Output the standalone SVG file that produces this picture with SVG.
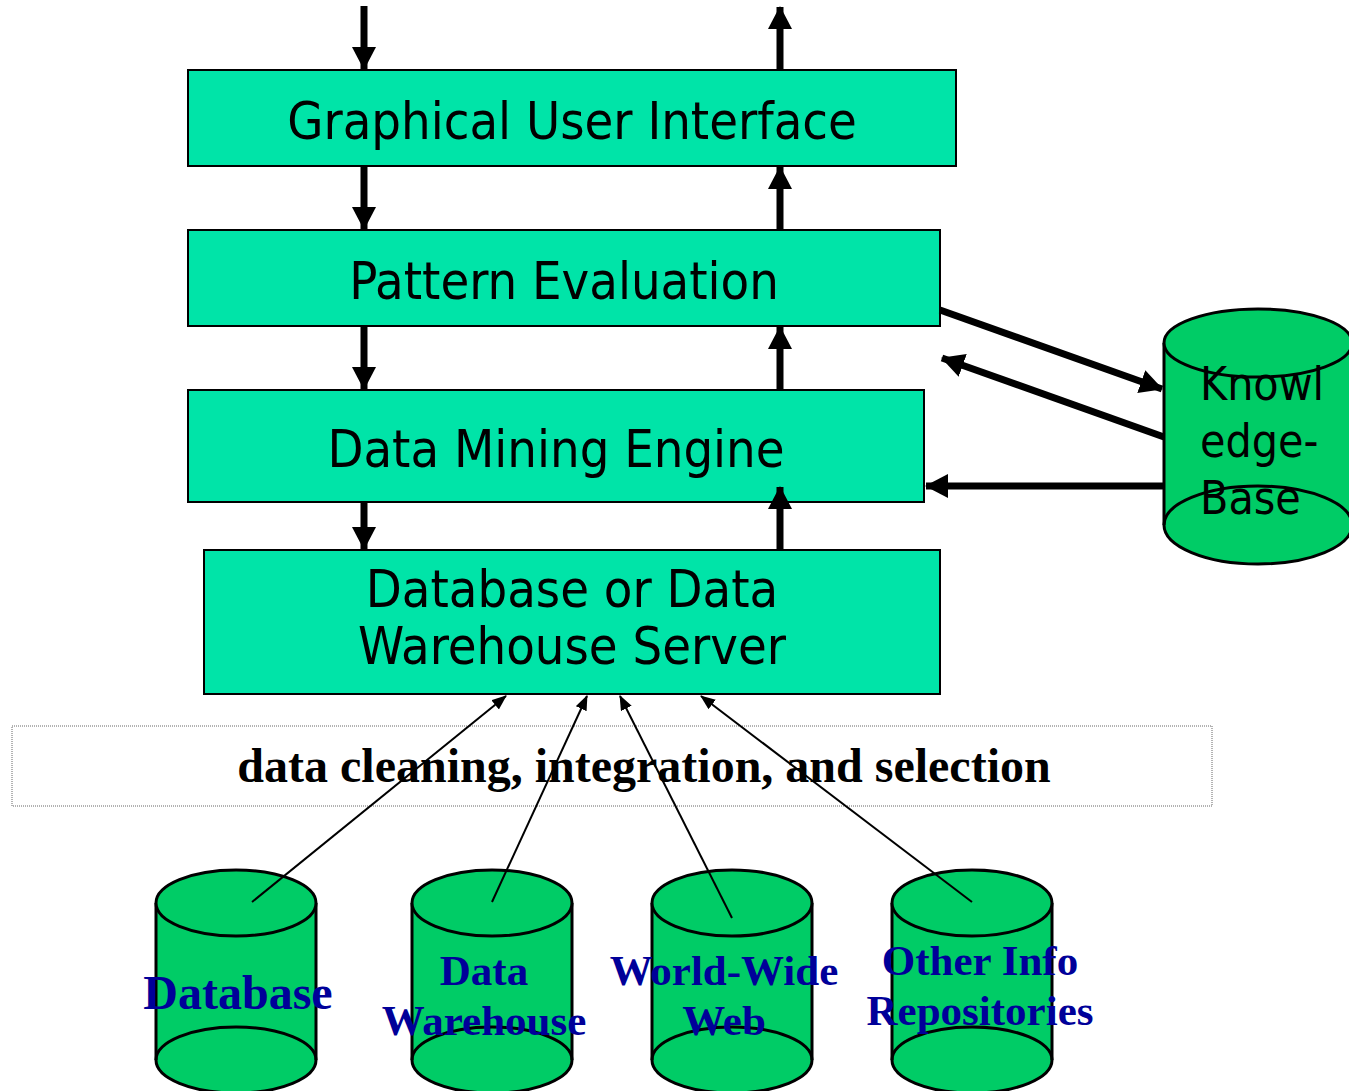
<svg xmlns="http://www.w3.org/2000/svg" width="1349" height="1091" viewBox="0 0 1349 1091">
<style>
.box{fill:#00E4A8;stroke:#000;stroke-width:2}
.bt{font-family:"DejaVu Sans Condensed","DejaVu Sans",sans-serif;font-size:52px;fill:#000;text-anchor:middle}
.kt{font-family:"DejaVu Sans Condensed","DejaVu Sans",sans-serif;font-size:46px;fill:#000}
.cyl{fill:#00CC66;stroke:#000;stroke-width:3}
.ct{font-family:"Liberation Serif",serif;font-weight:bold;font-size:43px;fill:#000099;text-anchor:middle}
.thick{stroke:#000;stroke-width:7;fill:none}
.thin{stroke:#000;stroke-width:2;fill:none}
</style>
<defs>
<marker id="ah" viewBox="0 0 23 24" markerWidth="23" markerHeight="24" refX="22" refY="12" orient="auto" markerUnits="userSpaceOnUse"><path d="M0,0 L23,12 L0,24 z" fill="#000"/></marker>
<marker id="as" viewBox="0 0 15 12" markerWidth="15" markerHeight="12" refX="14" refY="6" orient="auto" markerUnits="userSpaceOnUse"><path d="M0,0 L15,6 L0,12 z" fill="#000"/></marker>
</defs>
<rect width="1349" height="1091" fill="#fff"/>
<g id="gui"><rect class="box" x="188" y="70" width="768" height="96"/><text class="bt" x="572" y="139">Graphical User Interface</text></g>
<g id="pattern-evaluation"><rect class="box" x="188" y="230" width="752" height="96"/><text class="bt" x="564" y="299">Pattern Evaluation</text></g>
<g id="data-mining-engine"><rect class="box" x="188" y="390" width="736" height="112"/><text class="bt" x="556" y="467">Data Mining Engine</text></g>
<g id="server"><rect class="box" x="204" y="550" width="736" height="144"/><text class="bt" x="572" y="607">Database or Data</text><text class="bt" x="572" y="664">Warehouse Server</text></g>
<g id="cleaning"><rect x="12" y="726" width="1200" height="80" fill="none" stroke="#666" stroke-width="1" stroke-dasharray="1,1"/><text x="644" y="782" font-family="Liberation Serif,serif" font-weight="bold" font-size="48" text-anchor="middle">data cleaning, integration, and selection</text></g>
<g id="knowledge-base">
<path class="cyl" d="M1164,343 L1164,525 A94,39 0 0 0 1352,525 L1352,343"/>
<ellipse class="cyl" cx="1258" cy="343" rx="94" ry="34"/>
<path d="M1164,525 A94,39 0 0 1 1352,525" fill="none" stroke="#000" stroke-width="3"/>
<text class="kt" x="1200" y="400">Knowl</text>
<text class="kt" x="1200" y="457">edge-</text>
<text class="kt" x="1200" y="514">Base</text>
</g>
<g id="db-database">
<path class="cyl" d="M156,903 L156,1060 A80,33 0 0 0 316,1060 L316,903"/>
<ellipse class="cyl" cx="236" cy="903" rx="80" ry="33"/>
<path d="M156,1060 A80,33 0 0 1 316,1060" fill="none" stroke="#000" stroke-width="3"/>
<text class="ct" x="238" y="1009" style="font-size:48px">Database</text>
</g>
<g id="db-warehouse">
<path class="cyl" d="M412,903 L412,1060 A80,33 0 0 0 572,1060 L572,903"/>
<ellipse class="cyl" cx="492" cy="903" rx="80" ry="33"/>
<path d="M412,1060 A80,33 0 0 1 572,1060" fill="none" stroke="#000" stroke-width="3"/>
<text class="ct" x="484" y="985">Data</text><text class="ct" x="484" y="1035">Warehouse</text>
</g>
<g id="db-www">
<path class="cyl" d="M652,903 L652,1060 A80,33 0 0 0 812,1060 L812,903"/>
<ellipse class="cyl" cx="732" cy="903" rx="80" ry="33"/>
<path d="M652,1060 A80,33 0 0 1 812,1060" fill="none" stroke="#000" stroke-width="3"/>
<text class="ct" x="724" y="985">World-Wide</text><text class="ct" x="724" y="1035">Web</text>
</g>
<g id="db-other">
<path class="cyl" d="M892,903 L892,1060 A80,33 0 0 0 1052,1060 L1052,903"/>
<ellipse class="cyl" cx="972" cy="903" rx="80" ry="33"/>
<path d="M892,1060 A80,33 0 0 1 1052,1060" fill="none" stroke="#000" stroke-width="3"/>
<text class="ct" x="980" y="975">Other Info</text><text class="ct" x="980" y="1025">Repositories</text>
</g>
<g id="connectors">
<line class="thick" x1="364" y1="6" x2="364" y2="69" marker-end="url(#ah)"/>
<line class="thick" x1="364" y1="166" x2="364" y2="229" marker-end="url(#ah)"/>
<line class="thick" x1="364" y1="326" x2="364" y2="389" marker-end="url(#ah)"/>
<line class="thick" x1="364" y1="502" x2="364" y2="549" marker-end="url(#ah)"/>
<line class="thick" x1="780" y1="70" x2="780" y2="7" marker-end="url(#ah)"/>
<line class="thick" x1="780" y1="230" x2="780" y2="167" marker-end="url(#ah)"/>
<line class="thick" x1="780" y1="390" x2="780" y2="327" marker-end="url(#ah)"/>
<line class="thick" x1="780" y1="550" x2="780" y2="487" marker-end="url(#ah)"/>
<line class="thick" x1="940" y1="310" x2="1162" y2="389" marker-end="url(#ah)"/>
<line class="thick" x1="1164" y1="437" x2="942" y2="358" marker-end="url(#ah)"/>
<line class="thick" x1="1164" y1="486" x2="926" y2="486" marker-end="url(#ah)"/>
<line class="thin" x1="252" y1="902" x2="506" y2="696" marker-end="url(#as)"/>
<line class="thin" x1="492" y1="902" x2="587" y2="696" marker-end="url(#as)"/>
<line class="thin" x1="732" y1="918" x2="620" y2="696" marker-end="url(#as)"/>
<line class="thin" x1="972" y1="902" x2="701" y2="696" marker-end="url(#as)"/>
</g>
</svg>
